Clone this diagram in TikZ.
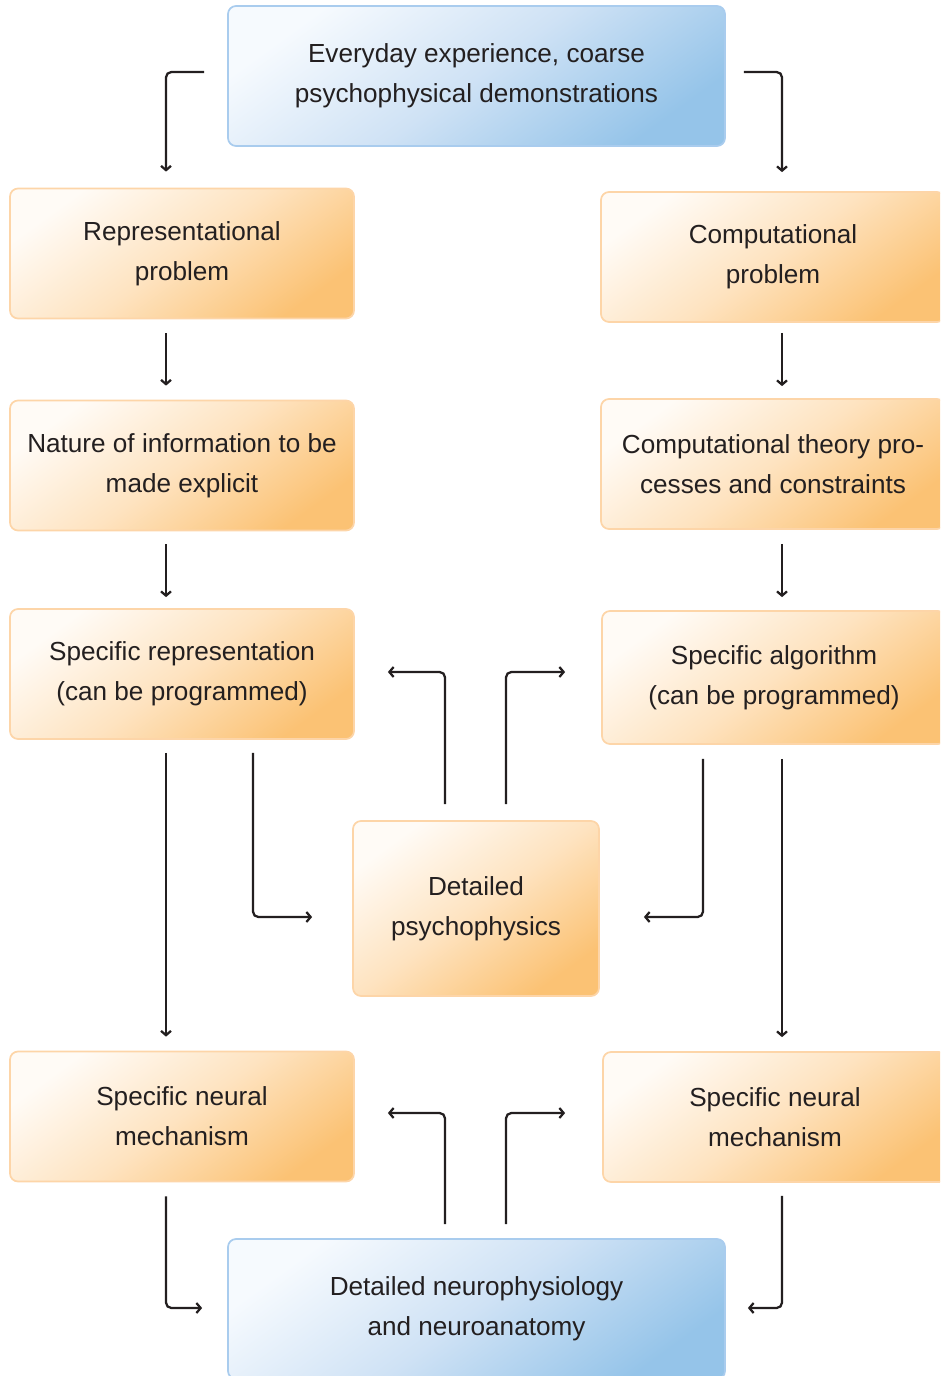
\documentclass[tikz,border=0pt]{standalone}
\usepackage{fontspec}
\setmainfont{Liberation Sans}
\usetikzlibrary{arrows.meta}
\definecolor{txt}{HTML}{231F20}
\definecolor{olight}{HTML}{FFFBF6}
\definecolor{omid}{HTML}{FEE3C0}
\definecolor{odark}{HTML}{FBC274}
\definecolor{oborder}{HTML}{FDD5A8}
\definecolor{blight}{HTML}{F6FAFE}
\definecolor{bmid}{HTML}{CFE2F5}
\definecolor{bdark}{HTML}{95C4E9}
\definecolor{bborder}{HTML}{A9CCEE}
\begin{document}
\begin{tikzpicture}[x=0.75pt,y=-0.75pt,
  box/.style={rounded corners=6pt, line width=1.3pt, align=center, text=txt,
    font=\fontsize{19.6}{30}\selectfont, inner sep=0pt},
  obox/.style={box, draw=oborder, top color=olight, bottom color=odark,
    middle color=omid, shading angle=36},
  bbox/.style={box, draw=bborder, top color=blight, bottom color=bdark,
    middle color=bmid, shading angle=36},
  side/.style={minimum width=258pt, minimum height=97.5pt},
  wide/.style={minimum width=372.75pt, minimum height=105pt},
  conn/.style={draw=txt, line width=1.7pt, rounded corners=4pt,
    -{Straight Barb[length=3.2pt,width=7.5pt]}}
]
\useasboundingbox (0,0) rectangle (940,1376);
\clip (0,0) rectangle (940,1376);

% boxes
\node[bbox, wide] (top) at (476.5,76) {Everyday experience, coarse\\psychophysical demonstrations};
\node[obox, side] (rep) at (182,253.5) {Representational\\problem};
\node[obox, side] (comp) at (773,257) {Computational\\problem};
\node[obox, side] (nat) at (182,465.5) {Nature of information to be\\made explicit};
\node[obox, side] (theo) at (773,464) {Computational theory pro-\\cesses and constraints};
\node[obox, side] (specrep) at (182,674) {Specific representation\\(can be programmed)};
\node[obox, side, minimum height=99.75pt] (alg) at (774,677.5) {Specific algorithm\\(can be programmed)};
\node[obox, minimum width=184.5pt, minimum height=131.25pt] (psy) at (476,908.5) {Detailed\\psychophysics};
\node[obox, side] (neuL) at (182,1116.5) {Specific neural\\mechanism};
\node[obox, side] (neuR) at (775,1117) {Specific neural\\mechanism};
\node[bbox, wide] (bot) at (476.5,1309) {Detailed neurophysiology\\and neuroanatomy};

% connectors
\draw[conn] ([shift={(-23,-4)}]top.west) -| ([shift={(-16,-16)}]rep.north);
\draw[conn] ([shift={(18,-4)}]top.east) -| ([shift={(9,-19)}]comp.north);
\draw[conn] ([shift={(-16,14)}]rep.south) -- ([shift={(-16,-14)}]nat.north);
\draw[conn] ([shift={(9,10)}]comp.south) -- ([shift={(9,-12)}]theo.north);
\draw[conn] ([shift={(-16,13)}]nat.south) -- ([shift={(-16,-11)}]specrep.north);
\draw[conn] ([shift={(9,14)}]theo.south) -- ([shift={(8,-13)}]alg.north);
\draw[conn] ([shift={(-31,-16)}]psy.north) |- ([shift={(33,-2)}]specrep.east);
\draw[conn] ([shift={(30,-16)}]psy.north) |- ([shift={(-36,-5.5)}]alg.west);
\draw[conn] ([shift={(71,13)}]specrep.south) |- ([shift={(-40,8.5)}]psy.west);
\draw[conn] ([shift={(-71,14)}]alg.south) |- ([shift={(44,8.5)}]psy.east);
\draw[conn] ([shift={(-16,13)}]specrep.south) -- ([shift={(-16,-14)}]neuL.north);
\draw[conn] ([shift={(8,14)}]alg.south) -- ([shift={(7,-14)}]neuR.north);
\draw[conn] ([shift={(-31.5,-14)}]bot.north) |- ([shift={(33,-3.5)}]neuL.east);
\draw[conn] ([shift={(29.5,-14)}]bot.north) |- ([shift={(-37,-4)}]neuR.west);
\draw[conn] ([shift={(-16,14)}]neuL.south) |- ([shift={(-25,-1)}]bot.west);
\draw[conn] ([shift={(7,13)}]neuR.south) |- ([shift={(22,-1)}]bot.east);
\end{tikzpicture}
\end{document}
